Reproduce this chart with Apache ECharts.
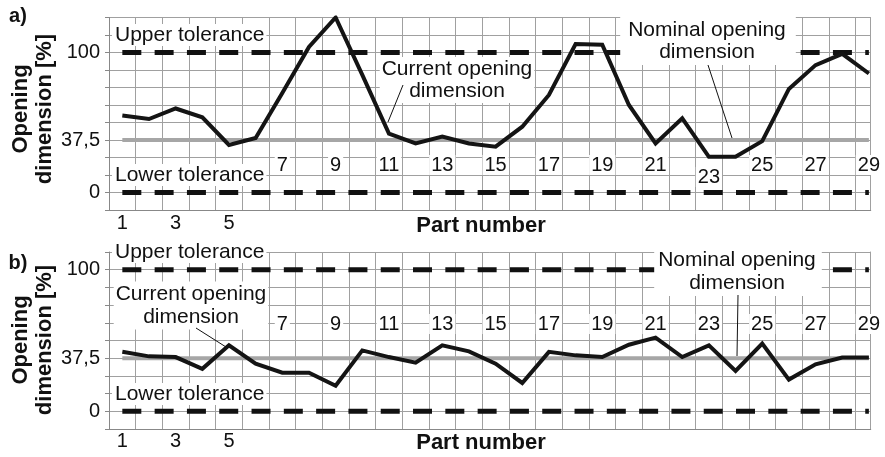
<!DOCTYPE html>
<html>
<head>
<meta charset="utf-8">
<script src="https://cdn.jsdelivr.net/npm/echarts@6/dist/echarts.min.js"></script>
<style>
  html, body { margin: 0; padding: 0; background: #fff; }
  #chart { width: 885px; height: 457px; }
</style>
</head>
<body>
<div id="chart"></div>
<script>
// Part numbers along the horizontal axis
const parts = [1, 2, 3, 4, 5, 6, 7, 8, 9, 10, 11, 12, 13, 14, 15, 16, 17, 18, 19, 20, 21, 22, 23, 24, 25, 26, 27, 28, 29];

// Current opening dimension [%] per part, panel a) and panel b)
const openingA = [55, 52.5, 60, 53.7, 34, 39, 71, 104, 125, 84, 42, 35, 40, 35, 32.7, 47, 69.7, 106, 105.5, 62.5, 35, 53, 25.5, 25.5, 36.7, 74, 91, 99, 85];
const openingB = [42, 38.8, 38.3, 30, 46.6, 33.6, 27.3, 27.3, 18, 43, 38.3, 34.4, 46.6, 42.3, 33.6, 20, 42, 39.5, 38.3, 47, 52, 38.3, 46.6, 28.5, 47.8, 22.4, 33.2, 38, 38];

// Reference levels [%]
const upperTolerance = 100;
const lowerTolerance = 0;
const nominalOpening = 37.5;

// Tick labels
const outerPartLabels = [1, 3, 5];
const innerPartLabelsA = [7, 9, 11, 13, 15, 17, 19, 21, 25, 27, 29];
const loweredPartLabelsA = [23];
const innerPartLabelsB = [7, 9, 11, 13, 15, 17, 19, 21, 23, 25, 27, 29];
const yTickValues = [0, 37.5, 100];
const yTickTexts = ['0', '37,5', '100'];

const FONT = 'Liberation Sans, Arial, Helvetica, sans-serif';
const GRID_COLOR = '#a0a0a0';
const AXIS_COLOR = '#888888';
const X_MIN = 0.5, X_MAX = 29.07;

const chart = echarts.init(document.getElementById('chart'), null, { renderer: 'canvas' });

function pairs(values) { return parts.map((p, i) => [p, values[i]]); }
function flat(level) { return [[parts[0], level], [parts[parts.length - 1], level]]; }

function labelFormatter(list) {
  return function (v) {
    const r = Math.round(v);
    if (Math.abs(v - r) > 1e-6) return '';
    return list.indexOf(r) >= 0 ? String(r) : '';
  };
}

function gridXAxis(gridIndex) {
  return {
    type: 'value', gridIndex, min: X_MIN, max: X_MAX, interval: 1,
    axisLine: { show: true, onZero: false, lineStyle: { color: AXIS_COLOR, width: 1 } },
    axisTick: { show: false }, axisLabel: { show: false },
    splitLine: { show: true, lineStyle: { color: GRID_COLOR, width: 1 } }
  };
}

function labelXAxis(gridIndex, list, offset, margin, boxed) {
  return {
    type: 'value', gridIndex, min: X_MIN, max: X_MAX, interval: 0.5,
    position: 'bottom', offset,
    axisLine: { show: false, onZero: false }, axisTick: { show: false }, splitLine: { show: false },
    axisLabel: {
      show: true, margin, color: '#111', fontFamily: FONT, fontSize: 20,
      formatter: labelFormatter(list),
      showMinLabel: true, showMaxLabel: true,
      backgroundColor: boxed ? '#fff' : 'transparent',
      padding: boxed ? [0, 2, 0, 2] : 0
    }
  };
}

function leftYAxis(gridIndex, max) {
  return {
    type: 'value', gridIndex, min: -12.5, max, interval: 12.5, position: 'left',
    axisLine: { show: true, onZero: false, lineStyle: { color: AXIS_COLOR, width: 1 } },
    axisTick: { show: true, inside: false, length: 4, lineStyle: { color: AXIS_COLOR } },
    axisLabel: {
      show: true, margin: 9, color: '#111', fontFamily: FONT, fontSize: 20,
      showMinLabel: true, showMaxLabel: true,
      formatter: function (v) {
        const k = yTickValues.findIndex(t => Math.abs(t - v) < 1e-6);
        return k >= 0 ? yTickTexts[k] : '';
      }
    },
    splitLine: { show: true, lineStyle: { color: GRID_COLOR, width: 1 } }
  };
}

function rightYAxis(gridIndex, max) {
  return {
    type: 'value', gridIndex, min: -12.5, max, interval: 12.5, position: 'right',
    axisLine: { show: true, onZero: false, lineStyle: { color: GRID_COLOR, width: 1 } },
    axisTick: { show: false }, axisLabel: { show: false }, splitLine: { show: false }
  };
}

function panelSeries(xAxisIndex, yAxisIndex, values) {
  const dashed = { color: '#111', width: 5, type: [19, 13.3], cap: 'butt' };
  return [
    { type: 'line', xAxisIndex, yAxisIndex, data: flat(nominalOpening), symbol: 'none', z: 2,
      lineStyle: { color: '#a6a6a6', width: 4 } },
    { type: 'line', xAxisIndex, yAxisIndex, data: flat(upperTolerance), symbol: 'none', z: 3,
      lineStyle: dashed },
    { type: 'line', xAxisIndex, yAxisIndex, data: flat(lowerTolerance), symbol: 'none', z: 3,
      lineStyle: dashed },
    { type: 'line', xAxisIndex, yAxisIndex, data: pairs(values), symbol: 'none', z: 4,
      lineStyle: { color: '#141414', width: 4, join: 'miter' } }
  ];
}

function boxText(text, x, y, align, lineHeight, padding) {
  return {
    type: 'text', z: 100,
    style: {
      text, x, y, align, verticalAlign: 'middle',
      font: '21px ' + FONT, fill: '#111', lineHeight,
      backgroundColor: '#fff', padding
    }
  };
}

function titleText(text, x, y, rotate, size) {
  return {
    type: 'text', z: 100, x, y, rotation: rotate ? Math.PI / 2 : 0,
    style: {
      text, x: 0, y: 0, align: 'center', verticalAlign: 'middle',
      font: 'bold ' + size + 'px ' + FONT, fill: '#111', lineHeight: 24
    }
  };
}

function leader(x1, y1, x2, y2) {
  return { type: 'line', z: 101, shape: { x1, y1, x2, y2 }, style: { stroke: '#111', lineWidth: 1 } };
}

const option = {
  animation: false,
  backgroundColor: '#fff',
  grid: [
    { left: 109, top: 17.5, width: 763, height: 192.5 },
    { left: 109, top: 252, width: 763, height: 177 }
  ],
  xAxis: [
    gridXAxis(0),
    labelXAxis(0, outerPartLabels, 0, 3, false),
    labelXAxis(0, innerPartLabelsA, -55, 0, true),
    labelXAxis(0, loweredPartLabelsA, -43, 0, true),
    gridXAxis(1),
    labelXAxis(1, outerPartLabels, 0, 2, false),
    labelXAxis(1, innerPartLabelsB, -115, 0, true)
  ],
  yAxis: [
    leftYAxis(0, 125), rightYAxis(0, 125),
    leftYAxis(1, 112.5), rightYAxis(1, 112.5)
  ],
  series: [].concat(panelSeries(0, 0, openingA), panelSeries(4, 2, openingB)),
  graphic: [
    // panel a)
    titleText('a)', 18, 16, false, 20),
    titleText('Opening\ndimension [%]', 33, 109, true, 22),
    titleText('Part number', 481, 226, false, 22),
    boxText('Upper tolerance', 112, 35, 'left', 22, [0, 2, 0, 3]),
    boxText('Lower tolerance', 112, 175, 'left', 22, [0, 2, 0, 3]),
    boxText('Current opening\ndimension', 457, 80, 'center', 22, [1, 2, 1, 2]),
    boxText('Nominal opening\ndimension', 708, 41, 'center', 22, [2, 10, 2, 8]),
    leader(403, 85, 388, 122),
    leader(708, 65, 732, 138),
    // panel b)
    titleText('b)', 18, 263, false, 20),
    titleText('Opening\ndimension [%]', 33, 340, true, 22),
    titleText('Part number', 481, 443, false, 22),
    boxText('Upper tolerance', 112, 252, 'left', 22, [0, 2, 0, 3]),
    boxText('Lower tolerance', 112, 394, 'left', 22, [0, 2, 0, 3]),
    boxText('Current opening\ndimension', 191, 305.5, 'center', 23, [1, 2, 1, 2]),
    boxText('Nominal opening\ndimension', 738, 272, 'center', 23, [1, 6, 1, 4]),
    leader(196, 328, 226, 347),
    leader(738, 295, 737, 356)
  ]
};

chart.setOption(option);
</script>
</body>
</html>
